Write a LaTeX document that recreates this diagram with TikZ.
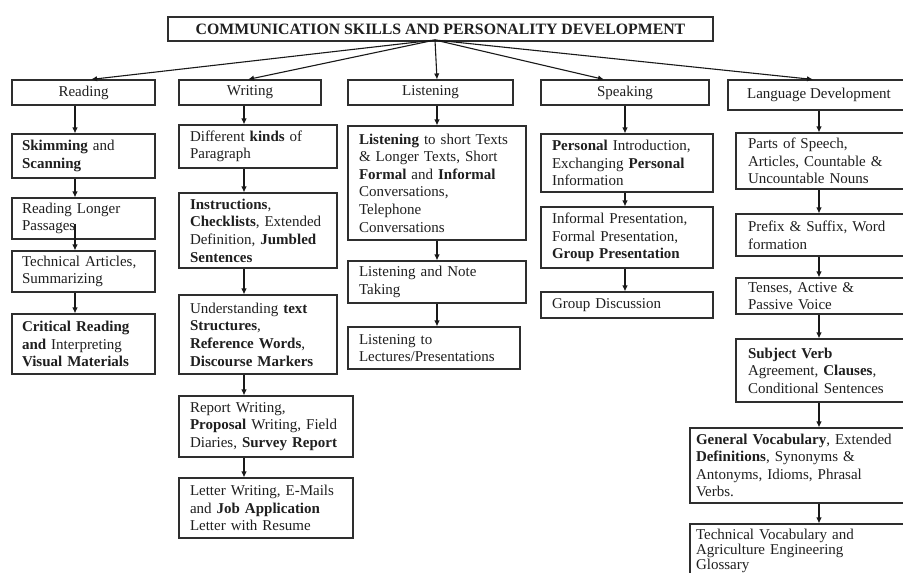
\documentclass[tikz,border=0pt]{standalone}
\usepackage{fontspec}
\setmainfont{Liberation Serif}
\usetikzlibrary{arrows.meta}
\newcommand\bodyfont{\fontsize{15}{17.6}\selectfont}
\newcommand\tightfont{\fontsize{15}{15.4}\selectfont}
\newcommand\titlefont{\fontsize{15.8}{18}\selectfont\bfseries}
\tikzset{
  box/.style={draw=black!82, line width=1.1pt, rectangle, inner ysep=0pt,
    align=left, font=\bodyfont, text=black!88},
  head/.style={draw=black!82, line width=1.1pt, rectangle, inner sep=0pt,
    align=center, font=\bodyfont, text=black!88},
  arr/.style={draw=black!90, line width=1.1pt, -{Latex[length=6pt,width=5.5pt]}},
}
% box: name, centre, width, height, side padding, text (flush left)
\newcommand\bx[6]{\node[box, minimum width=#3pt, minimum height=#4pt,
  inner xsep=#5pt, text width=\dimexpr #3pt-#5pt-#5pt\relax] (#1) at (#2) {#6};}
\begin{document}
\begin{tikzpicture}[x=1pt,y=-1pt]
\useasboundingbox (0,0) rectangle (903,573);
\fill[white] (0,0) rectangle (903,573);
\clip (0,0) rectangle (903,573);

% title and the five main areas
\node[head, minimum width=545pt, minimum height=24pt, font=\titlefont] (title) at (440.5,29)
  {COMMUNICATION SKILLS AND PERSONALITY DEVELOPMENT};
\node[head, minimum width=143pt, minimum height=25pt] (reading) at (83.5,92.5) {Reading};
\node[head, minimum width=142pt, minimum height=25pt] (writing) at (250,92.5) {Writing};
\node[head, minimum width=165pt, minimum height=25pt] (listening) at (430.5,92.5) {Listening};
\node[head, minimum width=168pt, minimum height=25pt] (speaking) at (625,92.5) {Speaking};
\node[head, minimum width=182pt, minimum height=30pt] (langdev) at (819,95) {Language Development};

% where the title fans out, and where each fan line lands
\coordinate (hub) at (435,40);
\coordinate (inR) at (91,0);
\coordinate (inW) at (248,0);
\coordinate (inS) at (604,0);
\coordinate (inD) at (813,0);
% column axes for the vertical connectors
\coordinate (colR) at (75,0);
\coordinate (colW) at (244,0);
\coordinate (colL) at (437,0);
\coordinate (colS) at (625,0);
\coordinate (colD) at (819,0);

% Reading
\bx{skim}{83.5,156}{143}{44}{10}{\textbf{Skimming} and\\\textbf{Scanning}}
\bx{rlong}{83.5,218.5}{143}{41}{10}{Reading Longer\\Passages}
\bx{tech}{83.5,271.5}{143}{41}{10}{Technical Articles,\\Summarizing}
\bx{crit}{83.5,344}{143}{60}{10}{\textbf{Critical Reading}\\\textbf{and} Interpreting\\\textbf{Visual Materials}}

% Writing
\bx{diff}{258,146.5}{158}{43}{11}{Different \textbf{kinds} of\\Paragraph}
\bx{instr}{258,230.5}{158}{75}{11}{\textbf{Instructions},\\\textbf{Checklists}, Extended\\Definition, \textbf{Jumbled}\\\textbf{Sentences}}
\bx{under}{258,334.5}{158}{79}{11}{Understanding \textbf{text}\\\textbf{Structures},\\\textbf{Reference Words},\\\textbf{Discourse Markers}}
\bx{report}{266,426.5}{174}{61}{11}{Report Writing,\\\textbf{Proposal} Writing, Field\\Diaries, \textbf{Survey Report}}
\bx{letter}{266,508}{174}{60}{11}{Letter Writing, E-Mails\\and \textbf{Job Application}\\Letter with Resume}

% Listening
\bx{lst1}{437,183}{178}{114}{11}{\textbf{Listening} to short Texts\\\& Longer Texts, Short\\\textbf{Formal} and \textbf{Informal}\\Conversations,\\Telephone\\Conversations}
\bx{note}{437,282}{178}{42}{11}{Listening and Note\\Taking}
\bx{lect}{434,348}{172}{42}{11}{Listening to\\Lectures/Presentations}

% Speaking
\bx{pers}{627,163}{172}{58}{11}{\textbf{Personal} Introduction,\\Exchanging \textbf{Personal}\\Information}
\bx{inf}{627,237.5}{172}{61}{11}{Informal Presentation,\\Formal Presentation,\\\textbf{Group Presentation}}
\bx{grp}{627,305}{172}{26}{11}{Group Discussion}

% Language Development
\bx{parts}{823,161}{174}{56}{12}{Parts of Speech,\\Articles, Countable \&\\Uncountable Nouns}
\bx{prefix}{823,235}{174}{42}{12}{Prefix \& Suffix, Word\\formation}
\bx{tenses}{823,296}{174}{36}{12}{Tenses, Active \&\\Passive Voice}
\bx{subj}{823,370.5}{174}{63}{12}{\textbf{Subject Verb}\\Agreement, \textbf{Clauses},\\Conditional Sentences}
\bx{gen}{800,465.5}{220}{75}{6}{\textbf{General Vocabulary}, Extended\\\textbf{Definitions}, Synonyms \&\\Antonyms, Idioms, Phrasal\\Verbs.}
\node[box, font=\tightfont, minimum width=220pt, minimum height=54pt, inner xsep=6pt,
  text width=208pt] (techv) at (800,551) {Technical Vocabulary and\\Agriculture Engineering\\Glossary};

% fan-out from the title
\draw[arr] (hub) -- (reading.north -| inR);
\draw[arr] (hub) -- (writing.north -| inW);
\draw[arr] (hub) -- (listening.north -| colL);
\draw[arr] (hub) -- (speaking.north -| inS);
\draw[arr] (hub) -- (langdev.north -| inD);

% Reading chain
\draw[arr] (reading.south -| colR) -- (skim.north -| colR);
\draw[arr] (skim.south -| colR) -- (rlong.north -| colR);
\draw[arr] ([yshift=16pt]rlong.south -| colR) -- (tech.north -| colR);
\draw[arr] (tech.south -| colR) -- (crit.north -| colR);

% Writing chain
\draw[arr] (writing.south -| colW) -- (diff.north -| colW);
\draw[arr] (diff.south -| colW) -- (instr.north -| colW);
\draw[arr] (instr.south -| colW) -- (under.north -| colW);
\draw[arr] (under.south -| colW) -- (report.north -| colW);
\draw[arr] (report.south -| colW) -- (letter.north -| colW);

% Listening chain
\draw[arr] (listening.south -| colL) -- (lst1.north -| colL);
\draw[arr] (lst1.south -| colL) -- (note.north -| colL);
\draw[arr] (note.south -| colL) -- (lect.north -| colL);

% Speaking chain
\draw[arr] (speaking.south -| colS) -- (pers.north -| colS);
\draw[arr] (pers.south -| colS) -- (inf.north -| colS);
\draw[arr] (inf.south -| colS) -- (grp.north -| colS);

% Language Development chain
\draw[arr] (langdev.south -| colD) -- (parts.north -| colD);
\draw[arr] (parts.south -| colD) -- (prefix.north -| colD);
\draw[arr] (prefix.south -| colD) -- (tenses.north -| colD);
\draw[arr] (tenses.south -| colD) -- (subj.north -| colD);
\draw[arr] (subj.south -| colD) -- (gen.north -| colD);
\draw[arr] (gen.south -| colD) -- (techv.north -| colD);
\end{tikzpicture}
\end{document}
